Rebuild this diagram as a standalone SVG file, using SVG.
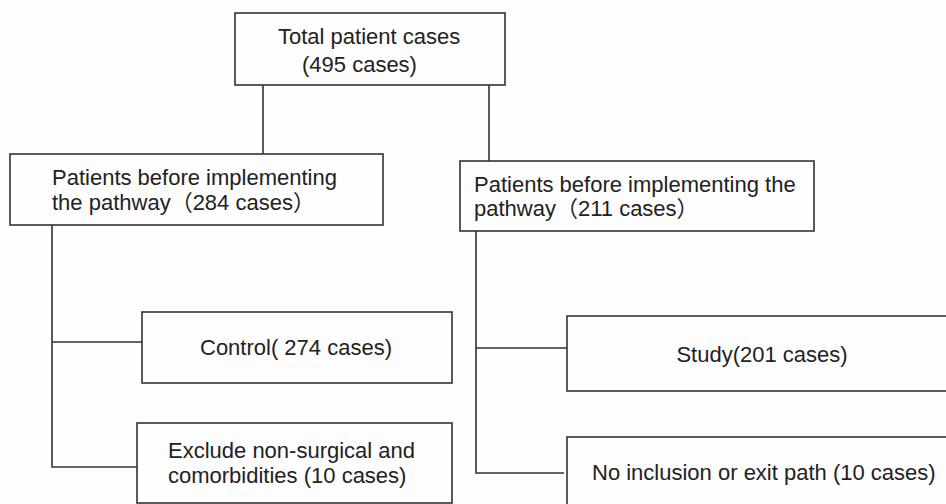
<svg xmlns="http://www.w3.org/2000/svg" width="946" height="504" viewBox="0 0 946 504">
<style>
.box{fill:none;stroke:#333;stroke-width:1.6}
.ln{fill:none;stroke:#333;stroke-width:1.6}
text{font-family:"Liberation Sans","Noto Sans CJK SC",Arial,sans-serif;font-size:22px;fill:#222}
</style>
<rect width="946" height="504" fill="#fdfdfd"/>
<g id="connectors">
<path class="ln" d="M263 85V154"/>
<path class="ln" d="M489 85V161"/>
<path class="ln" d="M52 225V467H137"/>
<path class="ln" d="M52 342H142"/>
<path class="ln" d="M476 231V473H564"/>
<path class="ln" d="M476 348H567"/>
</g>
<g id="total">
<rect class="box" x="235" y="13" width="270" height="72"/>
<text x="278" y="44">Total patient cases</text>
<text x="302" y="72">(495 cases)</text>
</g>
<g id="before-left">
<rect class="box" x="10" y="154" width="373" height="71"/>
<text x="52" y="185">Patients before implementing</text>
<text x="52" y="210">the pathway（284 cases）</text>
</g>
<g id="before-right">
<rect class="box" x="460" y="161" width="354" height="70"/>
<text x="474" y="192">Patients before implementing the</text>
<text x="474" y="216">pathway（211 cases）</text>
</g>
<g id="control">
<rect class="box" x="142" y="312" width="310" height="71"/>
<text x="296" y="355" text-anchor="middle">Control( 274 cases)</text>
</g>
<g id="exclude">
<rect class="box" x="137" y="423" width="315" height="80"/>
<text x="168" y="458">Exclude non-surgical and</text>
<text x="168" y="483">comorbidities (10 cases)</text>
</g>
<g id="study">
<rect class="box" x="567" y="316" width="400" height="75"/>
<text x="762" y="362" text-anchor="middle">Study(201 cases)</text>
</g>
<g id="noinclusion">
<rect class="box" x="567" y="437" width="400" height="90"/>
<text x="592" y="480">No inclusion or exit path (10 cases)</text>
</g>
</svg>
